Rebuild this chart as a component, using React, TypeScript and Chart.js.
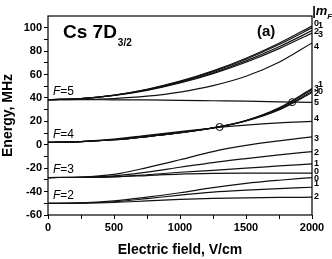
import React, { useEffect, useRef } from 'react';
import { Chart, registerables } from 'chart.js';

Chart.register(...registerables);

const FONT = '"Liberation Sans", Arial, sans-serif';

// Electric field sample points (V/cm)
const fieldValues = [0, 250, 500, 750, 1000, 1250, 1500, 1750, 2000];

// F=5 sublevels (MHz)
const f5m0 = [38.5, 39.5, 42.4, 47.4, 54.3, 63.1, 73.9, 86.7, 101.5];
const f5m1 = [38.5, 39.5, 42.3, 47.1, 53.9, 62.5, 73.1, 85.6, 100];
const f5m2 = [38.5, 39.4, 42.2, 46.8, 53.3, 61.5, 71.7, 83.7, 97.5];
const f5m3 = [38.5, 39.4, 42.1, 46.5, 52.8, 60.8, 70.5, 82.1, 95.5];
const f5m4 = [38.5, 38.7, 39.5, 41.5, 45, 50.5, 58.5, 70.5, 87];
const f5m5 = [38.5, 38.5, 38.4, 38.3, 38, 37.6, 37.2, 36.7, 36.2];
// F=4 sublevels
const f4m0 = [2, 2.7, 4.3, 7, 10.3, 14.3, 20.3, 29.8, 44.5];
const f4m1 = [2, 2.7, 4.3, 7, 10.3, 14.5, 20.7, 31.5, 48];
const f4m2 = [2, 2.7, 4.3, 7, 10.3, 14.4, 20.5, 30.3, 45.5];
const f4m3 = [2, 2.7, 4.3, 7, 10.3, 14.4, 20.6, 31, 47];
const f4m4 = [2, 2.8, 4.8, 8, 11.2, 14.3, 16.8, 18.7, 20];
// F=3 sublevels
const f3m0 = [-28, -27.9, -27.5, -26.3, -25, -24.4, -24.2, -24.2, -24.3];
const f3m1 = [-28, -27.9, -27.3, -25.6, -23.5, -21.8, -20, -18.1, -16.3];
const f3m2 = [-28, -27.8, -26.6, -23.3, -19.2, -15.2, -11.8, -8.6, -5.8];
const f3m3 = [-28, -27.6, -25.3, -19.5, -12.8, -5.8, -0.6, 3.3, 6.8];
// F=2 sublevels
const f2m0 = [-50, -49.7, -48, -44.8, -41, -36.6, -33, -30.3, -28];
const f2m1 = [-50, -49.8, -48.7, -46, -43, -40.5, -38.8, -37.4, -36.3];
const f2m2 = [-50, -49.9, -49.3, -48, -46.7, -45.8, -45.3, -45, -44.8];

const curves = [
  f5m0, f5m1, f5m2, f5m3, f5m4, f5m5,
  f4m0, f4m1, f4m2, f4m3, f4m4,
  f3m0, f3m1, f3m2, f3m3,
  f2m0, f2m1, f2m2,
];

// Level crossings (circled)
const crossField = [1300, 1850];
const crossEnergy = [15.2, 36.4];

// F labels at zero field
const fNames = ['5', '4', '3', '2'];
const fLevels = [38.5, 2, -28, -50];

// |mF| labels at the right edge
const mLabelText = ['0', '1', '2', '3', '4', '1', '3', '0', '2', '5', '4', '3', '2', '1', '0', '0', '1', '2'];
const mLabelEnergy = [103.2, 101.5, 96.6, 94.4, 83.8, 51.1, 48.2, 45.3, 44, 35.9, 22, 5.5, -6.8, -15.8, -23, -28.6, -33.5, -44.4];
const mLabelStagger = [0, 1, 0, 1, 0, 1, 0, 1, 0, 0, 0, 0, 0, 0, 0, 0, 0, 0];

const xTickValues = [0, 250, 500, 750, 1000, 1250, 1500, 1750, 2000];
const yTickValues = [-60, -50, -40, -30, -20, -10, 0, 10, 20, 30, 40, 50, 60, 70, 80, 90, 100];

const annotPlugin = {
  id: 'annot',
  afterDraw(chart: any) {
    const { ctx, chartArea, scales } = chart;
    const xs = scales.x;
    const ys = scales.y;
    ctx.save();
    ctx.strokeStyle = '#000';
    ctx.lineWidth = 1.2;
    ctx.strokeRect(chartArea.left, chartArea.top, chartArea.right - chartArea.left, chartArea.bottom - chartArea.top);

    ctx.fillStyle = '#000';
    ctx.textBaseline = 'alphabetic';
    ctx.textAlign = 'left';
    // Title
    ctx.font = `bold 19px ${FONT}`;
    const tx = chartArea.left + 15;
    ctx.fillText('Cs 7D', tx, 38);
    const tw = ctx.measureText('Cs 7D').width;
    ctx.font = `bold 10px ${FONT}`;
    ctx.fillText('3/2', tx + tw + 1, 46);
    // (a)
    ctx.font = `bold 15px ${FONT}`;
    ctx.fillText('(a)', 257, 36);

    // F labels
    fNames.forEach((n, i) => {
      const x = xs.getPixelForValue(0) + 5;
      const y = ys.getPixelForValue(fLevels[i]) - 4.5;
      ctx.font = `italic 12px ${FONT}`;
      ctx.fillText('F', x, y);
      const w = ctx.measureText('F').width;
      ctx.font = `12px ${FONT}`;
      ctx.fillText('=' + n, x + w, y);
    });

    // mF labels
    ctx.font = `bold 9px ${FONT}`;
    ctx.textBaseline = 'middle';
    mLabelText.forEach((t, i) => {
      const x = chartArea.right + 2 + mLabelStagger[i] * 4;
      const y = ys.getPixelForValue(mLabelEnergy[i]);
      ctx.fillText(t, x, y);
    });

    // |mF| header
    ctx.textBaseline = 'alphabetic';
    ctx.font = `bold italic 13px ${FONT}`;
    ctx.fillText('|m', chartArea.right, 15);
    const hw = ctx.measureText('|m').width;
    ctx.font = `bold italic 8px ${FONT}`;
    ctx.fillText('F', chartArea.right + hw, 19);
    const fw = ctx.measureText('F').width;
    ctx.font = `bold italic 13px ${FONT}`;
    ctx.fillText('|', chartArea.right + hw + fw, 15);
    ctx.restore();
  },
};

export default function App() {
  const ref = useRef<HTMLCanvasElement | null>(null);
  useEffect(() => {
    document.body.style.margin = '0';
    if (!ref.current) return;
    const datasets: any[] = curves.map((vals) => ({
      data: fieldValues.map((x, i) => ({ x, y: vals[i] })),
      borderColor: '#111',
      borderWidth: 1.2,
      pointRadius: 0,
      fill: false,
      cubicInterpolationMode: 'monotone',
    }));
    datasets.push({
      data: crossField.map((x, i) => ({ x, y: crossEnergy[i] })),
      showLine: false,
      pointRadius: 3.5,
      pointBorderWidth: 1,
      pointBorderColor: '#000',
      pointBackgroundColor: 'rgba(0,0,0,0)',
    });
    const tickFont = { family: FONT, weight: 'bold' as const, size: 11 };
    const chart = new Chart(ref.current, {
      type: 'line',
      data: { datasets },
      plugins: [annotPlugin],
      options: {
        animation: false,
        responsive: false,
        devicePixelRatio: 1,
        layout: { padding: { left: 0, right: 20, top: 16, bottom: 0 } },
        plugins: { legend: { display: false }, tooltip: { enabled: false } },
        scales: {
          x: {
            type: 'linear',
            min: 0,
            max: 2000,
            afterFit(s: any) { s.height = 44; },
            afterBuildTicks(s: any) { s.ticks = xTickValues.map((v) => ({ value: v })); },
            ticks: {
              autoSkip: false,
              maxRotation: 0,
              padding: 2,
              color: '#000',
              font: tickFont,
              callback: (v: any) => (Number(v) % 500 === 0 ? String(v) : ''),
            },
            grid: { drawOnChartArea: false, drawTicks: true, tickLength: 4, color: '#000' },
            border: { display: false },
            title: {
              display: true,
              text: 'Electric field, V/cm',
              color: '#000',
              font: { family: FONT, weight: 'bold', size: 14 },
              padding: { top: 0, bottom: 0 },
            },
          },
          y: {
            type: 'linear',
            min: -60,
            max: 110,
            afterFit(s: any) { s.width = 48; },
            afterBuildTicks(s: any) { s.ticks = yTickValues.map((v) => ({ value: v })); },
            ticks: {
              autoSkip: false,
              padding: 2,
              color: '#000',
              font: tickFont,
              callback: (v: any) => (Number(v) % 20 === 0 ? String(v) : ''),
            },
            grid: { drawOnChartArea: false, drawTicks: true, tickLength: 4, color: '#000' },
            border: { display: false },
            title: {
              display: true,
              text: 'Energy, MHz',
              color: '#000',
              font: { family: FONT, weight: 'bold', size: 14 },
              padding: { top: 0, bottom: 0 },
            },
          },
        },
      },
    } as any);
    return () => chart.destroy();
  }, []);
  return (
    <div style={{ position: 'absolute', left: 0, top: 0, width: 332, height: 259 }}>
      <canvas ref={ref} width={332} height={259} />
    </div>
  );
}
